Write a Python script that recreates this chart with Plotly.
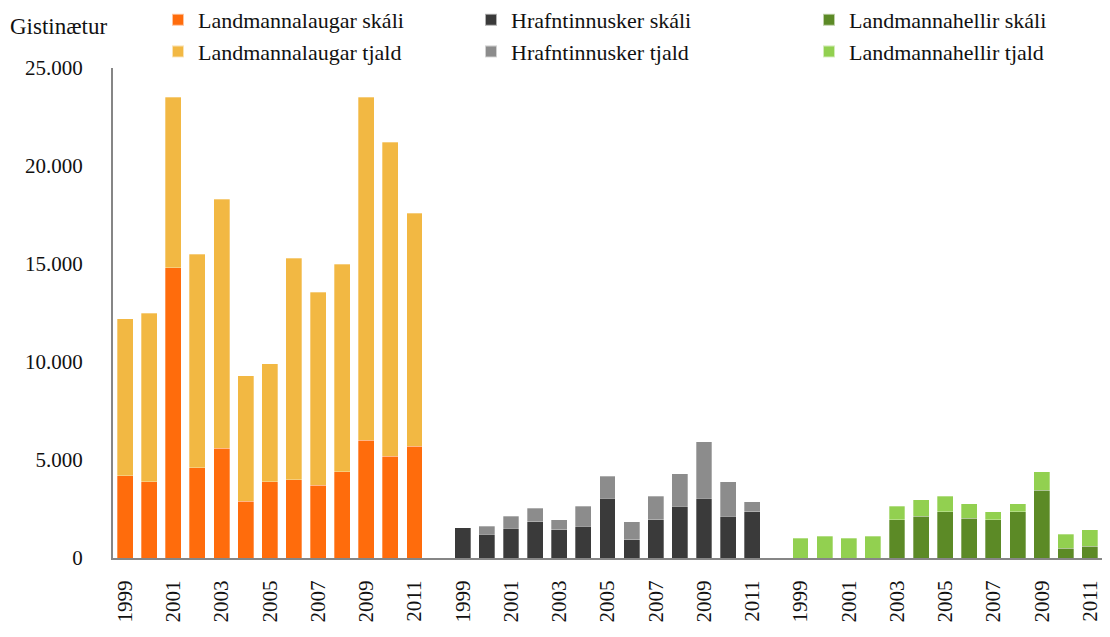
import plotly.graph_objects as go

years = list(range(1999, 2012))

laugar_skali = [4200, 3900, 14800, 4600, 5600, 2900, 3900, 4000, 3700, 4400, 6000, 5200, 5700]
laugar_tjald = [8000, 8600, 8700, 10900, 12700, 6400, 6000, 11300, 9850, 10600, 17500, 16000, 11900]

hraf_skali = [1550, 1220, 1530, 1840, 1430, 1630, 3050, 920, 1940, 2650, 3050, 2140, 2350]
hraf_tjald = [0, 410, 610, 710, 510, 1020, 1120, 920, 1220, 1640, 2870, 1740, 510]

hellir_skali = [0, 0, 0, 0, 1940, 2140, 2350, 2040, 1940, 2350, 3450, 510, 610]
hellir_tjald = [1000, 1100, 1000, 1100, 710, 820, 810, 720, 410, 410, 940, 710, 820]

groups = [
    ("Landmannalaugar", laugar_skali, laugar_tjald, "#FF6C0C", "#F2B843", "legend"),
    ("Hrafntinnusker", hraf_skali, hraf_tjald, "#3A3A3A", "#8C8C8C", "legend2"),
    ("Landmannahellir", hellir_skali, hellir_tjald, "#5C8A26", "#92D050", "legend3"),
]

FONT = "Liberation Serif"
n = len(years)
fig = go.Figure()
tickvals, ticktext = [], []
for g, (name, skali, tjald, c1, c2, leg) in enumerate(groups):
    offset = g * (n + 1)
    xs = [offset + i for i in range(n)]
    fig.add_trace(go.Bar(x=xs, y=skali, name=f"{name} skáli", marker_color=c1,
                         marker_line=dict(color="rgba(255,255,255,0.6)", width=0.5),
                         legend=leg))
    fig.add_trace(go.Bar(x=xs, y=tjald, name=f"{name} tjald", marker_color=c2,
                         marker_line=dict(color="rgba(255,255,255,0.6)", width=0.5),
                         legend=leg))
    for i, yr in enumerate(years):
        if yr % 2 == 1:
            tickvals.append(offset + i)
            ticktext.append(str(yr))

# page body has an 8px margin; keep the figure fully inside the window
OFF = 8
W, H = 1110 - 2 * OFF, 637 - 2 * OFF
# plot area in screen pixels
L, R, T, B = 113, 1110 - OFF, 68, 558
def px_x(p):
    return (p - L) / (R - L)
def px_y(p):
    return (B - p) / (B - T)

legend_common = dict(
    font=dict(family=FONT, size=22, color="#111111"),
    xref="paper", yref="paper", yanchor="top", xanchor="left",
    bgcolor="rgba(0,0,0,0)", tracegroupgap=0, traceorder="normal",
    itemsizing="constant",
)
leg_top = px_y(-1)

fig.update_layout(
    width=W, height=H,
    margin=dict(l=L - OFF, r=(OFF + W) - R, t=T - OFF, b=(OFF + H) - B, autoexpand=False),
    barmode="stack", bargap=0.34,
    plot_bgcolor="white", paper_bgcolor="white",
    separators=",.",
    font=dict(family=FONT, size=21, color="#111111"),
    legend=dict(x=px_x(158), y=leg_top, **legend_common),
    legend2=dict(x=px_x(471), y=leg_top, **legend_common),
    legend3=dict(x=px_x(809), y=leg_top, **legend_common),
    xaxis=dict(
        range=[-0.5, 3 * n + 1.5], tickmode="array", tickvals=tickvals, ticktext=ticktext,
        tickangle=-90, showgrid=False, zeroline=False, showline=True,
        linecolor="#868686", linewidth=2, ticks="", ticklabelstandoff=12,
        tickfont=dict(family=FONT, size=21, color="#111111"),
    ),
    yaxis=dict(
        range=[0, 25000], tickvals=[0, 5000, 10000, 15000, 20000, 25000], tickformat=",d",
        showgrid=False, zeroline=False, showline=True, linecolor="#868686", linewidth=2,
        ticks="", ticklabelstandoff=24,
        tickfont=dict(family=FONT, size=21, color="#111111"),
    ),
    annotations=[dict(text="Gistinætur", xref="paper", yref="paper",
                      x=px_x(8), y=px_y(26), xanchor="left", yanchor="middle",
                      showarrow=False, font=dict(family=FONT, size=23, color="#111111"))],
)

fig.write_html("out.html")
